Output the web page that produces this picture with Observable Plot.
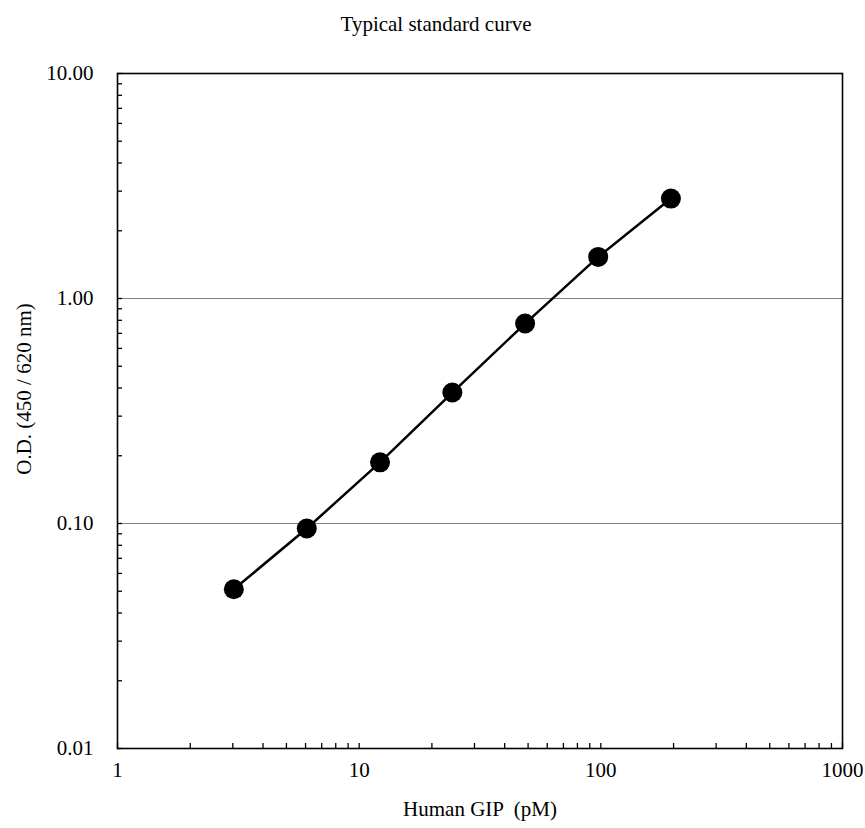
<!DOCTYPE html>
<html>
<head>
<meta charset="utf-8">
<script src="https://cdn.jsdelivr.net/npm/d3@7"></script>
<script src="https://cdn.jsdelivr.net/npm/@observablehq/plot@0.6"></script>
<style>
  body { margin: 0; background: white; }
  #title { width: 872px; height: 45px; box-sizing: border-box; padding-top: 3px; line-height: 42px;
           text-align: center; font-family: 'Liberation Serif', 'Times New Roman', serif; font-size: 21px; color: #000; }
</style>
</head>
<body>
<div id="title">Typical standard curve</div>
<div id="chart"></div>
<script>
// Data
const concentration = [3.03, 6.07, 12.2, 24.3, 48.6, 97.5, 195]; // Human GIP (pM)
const opticalDensity = [0.051, 0.095, 0.187, 0.382, 0.774, 1.53, 2.78]; // O.D. (450 / 620 nm)

const xMajorTicks = [1, 10, 100, 1000];
const xMinorTicks = [2, 3, 4, 5, 6, 7, 8, 9, 20, 30, 40, 50, 60, 70, 80, 90, 200, 300, 400, 500, 600, 700, 800, 900];
const yMajorTicks = [0.01, 0.1, 1, 10];
const yMinorTicks = [0.02, 0.03, 0.04, 0.05, 0.06, 0.07, 0.08, 0.09, 0.2, 0.3, 0.4, 0.5, 0.6, 0.7, 0.8, 0.9, 2, 3, 4, 5, 6, 7, 8, 9];
const yGridLines = [0.1, 1];

const xLabel = "Human GIP \u00a0(pM)";
const yLabel = "O.D. (450 / 620 nm)";

const points = concentration.map((c, i) => ({conc: c, od: opticalDensity[i]}));

const chart = Plot.plot({
  width: 865,
  height: 783,
  marginLeft: 117,
  marginRight: 23,
  marginTop: 28,
  marginBottom: 80,
  style: {fontFamily: "'Liberation Serif', 'Times New Roman', serif", fontSize: "21px", background: "white", color: "black"},
  x: {type: "log", domain: [1, 1000]},
  y: {type: "log", domain: [0.01, 10]},
  marks: [
    Plot.ruleY(yGridLines, {stroke: "#808080", strokeWidth: 1.2}),
    Plot.axisX(xMajorTicks, {tickSize: 0, tickPadding: 14, tickFormat: d => d3.format("d")(d), label: null}),
    Plot.axisX([...xMajorTicks, ...xMinorTicks], {tickSize: -5, tickFormat: () => "", label: null, strokeWidth: 1.3}),
    Plot.axisY(yMajorTicks, {tickSize: 0, tickPadding: 24, tickFormat: d => d3.format(".2f")(d), label: null}),
    Plot.axisY([...yMajorTicks, ...yMinorTicks], {tickSize: -5, tickFormat: () => "", label: null, strokeWidth: 1.3}),
    Plot.frame({stroke: "black", strokeWidth: 1.6}),
    Plot.line(points, {x: "conc", y: "od", stroke: "black", strokeWidth: 2.5}),
    Plot.dot(points, {x: "conc", y: "od", r: 10, fill: "black", stroke: "none"}),
    Plot.text([xLabel], {text: d => d, frameAnchor: "bottom", dy: 67, fontSize: 21}),
    Plot.text([yLabel], {text: d => d, frameAnchor: "left", textAnchor: "middle", rotate: -90, dx: -93, dy: -22, fontSize: 21})
  ]
});
document.getElementById("chart").appendChild(chart);
</script>
</body>
</html>
